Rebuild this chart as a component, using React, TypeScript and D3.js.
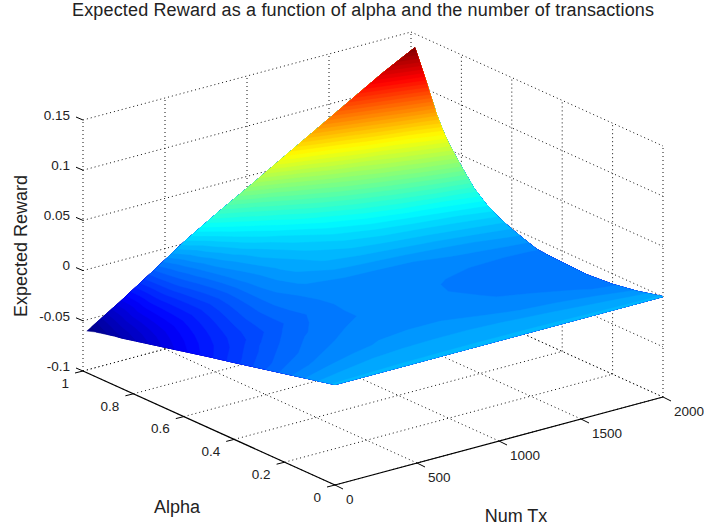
import * as d3 from 'd3';
import React from 'react';

const alphaTicks = [0, 0.2, 0.4, 0.6, 0.8, 1];
const numTicks = [0, 500, 1000, 1500, 2000];
const rewardTicks = [-0.1, -0.05, 0, 0.05, 0.1, 0.15];

// grid the surface was read on
const numGrid = [0, 200, 400, 600, 800, 1000, 1200, 1400, 1600, 1800, 2000];
const alphaGrid = [0, 0.1, 0.2, 0.3, 0.4, 0.45, 0.5, 0.55, 0.6, 0.65, 0.7, 0.75, 0.8, 0.85, 0.875, 0.9, 0.925, 0.95, 0.985];

// one row per alpha, one column per num tx
const reward000 = [0, 0, 0, 0, 0, 0, 0, 0, 0, 0, 0];
const reward100 = [-0.0058, -0.0043, -0.0034, -0.0031, -0.003, -0.003, -0.0032, -0.0036, -0.0042, -0.005, -0.0062];
const reward200 = [-0.0117, -0.0092, -0.0075, -0.0065, -0.0062, -0.0062, -0.0068, -0.008, -0.0085, -0.0095, -0.0105];
const reward300 = [-0.0175, -0.0135, -0.0105, -0.0085, -0.0082, -0.0082, -0.0088, -0.0097, -0.0105, -0.0112, -0.0125];
const reward400 = [-0.0234, -0.0175, -0.0135, -0.0112, -0.0094, -0.0091, -0.0094, -0.0103, -0.0112, -0.0115, -0.0115];
const reward450 = [-0.0262, -0.02, -0.0152, -0.0118, -0.0092, -0.0092, -0.0094, -0.0101, -0.0105, -0.0108, -0.0108];
const reward500 = [-0.029, -0.0228, -0.0172, -0.0128, -0.0092, -0.0092, -0.0094, -0.0096, -0.0099, -0.0102, -0.0098];
const reward550 = [-0.032, -0.0247, -0.0175, -0.012, -0.009, -0.0085, -0.0083, -0.0082, -0.0078, -0.007, -0.0055];
const reward600 = [-0.035, -0.0265, -0.018, -0.0112, -0.0085, -0.0078, -0.0075, -0.0068, -0.0055, -0.0035, -0.001];
const reward650 = [-0.038, -0.0285, -0.0192, -0.0108, -0.0062, -0.0042, -0.0032, -0.002, -0.0003, 0.002, 0.0045];
const reward700 = [-0.041, -0.0305, -0.0205, -0.0105, -0.0045, -0.001, 0.001, 0.003, 0.005, 0.0075, 0.012];
const reward750 = [-0.044, -0.0325, -0.0215, -0.0102, -0.0035, 0.001, 0.005, 0.0085, 0.012, 0.0165, 0.0225];
const reward800 = [-0.047, -0.0335, -0.021, -0.0092, -0.0015, 0.004, 0.01, 0.016, 0.023, 0.0305, 0.0385];
const reward850 = [-0.05, -0.0345, -0.02, -0.0075, 0.001, 0.0085, 0.0175, 0.027, 0.036, 0.0455, 0.0555];
const reward875 = [-0.051, -0.035, -0.019, -0.0065, 0.0035, 0.0125, 0.023, 0.0335, 0.0435, 0.054, 0.0665];
const reward900 = [-0.0525, -0.0355, -0.0185, -0.0055, 0.006, 0.0165, 0.0285, 0.04, 0.051, 0.0635, 0.08];
const reward925 = [-0.054, -0.037, -0.018, -0.0035, 0.0095, 0.0225, 0.0355, 0.049, 0.063, 0.079, 0.097];
const reward950 = [-0.0555, -0.038, -0.0175, -0.002, 0.0145, 0.0285, 0.0435, 0.059, 0.0765, 0.095, 0.114];
const reward985 = [-0.0585, -0.0385, -0.017, 0.005, 0.0245, 0.043, 0.062, 0.081, 0.1, 0.119, 0.136];

const rewardRows = [reward000, reward100, reward200, reward300, reward400, reward450, reward500, reward550, reward600, reward650, reward700, reward750, reward800, reward850, reward875, reward900, reward925, reward950, reward985];

const width = 704;
const height = 529;

const numX = d3.scaleLinear().domain([0, 2000]).range([0, 328]);
const numY = d3.scaleLinear().domain([0, 2000]).range([0, -88]);
const alphaX = d3.scaleLinear().domain([0, 1]).range([0, -252]);
const alphaY = d3.scaleLinear().domain([0, 1]).range([0, -114]);
const rewardY = d3.scaleLinear().domain([-0.1, 0.15]).range([0, -251]);

const project = (alpha: number, num: number, reward: number): [number, number] => [
  335 + numX(num) + alphaX(alpha),
  485 + numY(num) + alphaY(alpha) + rewardY(reward),
];

const linePath = (a: [number, number, number], b: [number, number, number]) =>
  d3.line()([project(a[0], a[1], a[2]), project(b[0], b[1], b[2])]) as string;

// jet, stepped to 64 colours like matlab
const jetScale = d3.scaleLinear<string>()
  .domain([0, 0.125, 0.375, 0.625, 0.875, 1])
  .range(['#000080', '#0000ff', '#00ffff', '#ffff00', '#ff0000', '#800000']);

const flat = rewardRows.flat();
const zMin = d3.min(flat) as number;
const zMax = d3.max(flat) as number;
const thresholds = d3.range(64).map(i => zMin + (i * (zMax - zMin)) / 64);

const colIndex = d3.scaleLinear().domain(numGrid.map((_, i) => i)).range(numGrid).clamp(true);
const rowIndex = d3.scaleLinear().domain(alphaGrid.map((_, i) => i)).range(alphaGrid).clamp(true);

const bands = d3.contours()
  .size([numGrid.length, alphaGrid.length])
  .thresholds(thresholds)(flat);

// contour coordinates -> screen, the half cell at the edge gets clamped
const bandPath = d3.geoPath(d3.geoTransform({
  point(x: number, y: number) {
    const num = colIndex(x - 0.5);
    const alpha = rowIndex(y - 0.5);
    // height is bilinear on the grid so the band sits on the surface
    const c = Math.max(0, Math.min(numGrid.length - 1, x - 0.5));
    const r = Math.max(0, Math.min(alphaGrid.length - 1, y - 0.5));
    const c0 = Math.min(Math.floor(c), numGrid.length - 2);
    const r0 = Math.min(Math.floor(r), alphaGrid.length - 2);
    const fc = c - c0;
    const fr = r - r0;
    const z =
      rewardRows[r0][c0] * (1 - fc) * (1 - fr) +
      rewardRows[r0][c0 + 1] * fc * (1 - fr) +
      rewardRows[r0 + 1][c0] * (1 - fc) * fr +
      rewardRows[r0 + 1][c0 + 1] * fc * fr;
    const p = project(alpha, num, z);
    this.stream.point(p[0], p[1]);
  },
}));

const dotted = { stroke: '#111', strokeWidth: 1, strokeDasharray: '1 3', fill: 'none' };
const labelFont = '"Liberation Sans", Arial, sans-serif';

const App = () => {
  const zLow = rewardTicks[0];
  const zHigh = rewardTicks[rewardTicks.length - 1];
  const numEnd = numTicks[numTicks.length - 1];

  return (
    <svg width={width} height={height} style={{ position: 'absolute', left: 0, top: 0, background: '#fff' }} fontFamily={labelFont}>
      {/* floor */}
      {numTicks.map(n => (
        <path key={'fn' + n} d={linePath([0, n, zLow], [1, n, zLow])} {...dotted} />
      ))}
      {alphaTicks.map(a => (
        <path key={'fa' + a} d={linePath([a, 0, zLow], [a, numEnd, zLow])} {...dotted} />
      ))}
      {/* back walls */}
      {rewardTicks.map(z => (
        <g key={'wz' + z}>
          <path d={linePath([1, 0, z], [1, numEnd, z])} {...dotted} />
          <path d={linePath([1, numEnd, z], [0, numEnd, z])} {...dotted} />
        </g>
      ))}
      {numTicks.map(n => (
        <path key={'wn' + n} d={linePath([1, n, zLow], [1, n, zHigh])} {...dotted} />
      ))}
      {alphaTicks.slice(0, -1).map(a => (
        <path key={'wa' + a} d={linePath([a, numEnd, zLow], [a, numEnd, zHigh])} {...dotted} />
      ))}

      {/* surface */}
      {bands.map((b, i) => {
        const c = jetScale((i + 0.5) / 64);
        return <path key={i} d={bandPath(b as any) || ''} fill={c} stroke={c} strokeWidth={0.4} />;
      })}

      {/* axes */}
      <path d={linePath([1, 0, zLow], [0, 0, zLow])} stroke="#000" strokeWidth={1.2} fill="none" />
      <path d={linePath([0, 0, zLow], [0, numEnd, zLow])} stroke="#000" strokeWidth={1.2} fill="none" />

      {alphaTicks.map(a => {
        const [x, y] = project(a, 0, zLow);
        return (
          <g key={'ta' + a}>
            <path d={`M${x},${y}L${x - 8},${y + 2}`} stroke="#000" fill="none" />
            <text x={x - 14} y={y + 12} dy="0.35em" textAnchor="end" fontSize={13.5} fill="#222">{a}</text>
          </g>
        );
      })}
      {numTicks.map(n => {
        const [x, y] = project(0, n, zLow);
        return (
          <g key={'tn' + n}>
            <path d={`M${x},${y}L${x + 8},${y + 4}`} stroke="#000" fill="none" />
            <text x={x + 11} y={y + 14} dy="0.35em" fontSize={13.5} fill="#222">{n}</text>
          </g>
        );
      })}
      {rewardTicks.map(z => {
        const [x, y] = project(1, 0, z);
        return (
          <g key={'tz' + z}>
            <path d={`M${x},${y}L${x - 7},${y - 3}`} stroke="#000" fill="none" />
            <text x={x - 13} y={y - 5} dy="0.35em" textAnchor="end" fontSize={13.5} fill="#222">{z}</text>
          </g>
        );
      })}

      <text x={363} y={16} textAnchor="middle" fontSize={18} textLength={582} fill="#222">Expected Reward as a function of alpha and the number of transactions</text>
      <text x={177} y={513} textAnchor="middle" fontSize={18} fill="#222">Alpha</text>
      <text x={516} y={522} textAnchor="middle" fontSize={18} fill="#222">Num Tx</text>
      <text transform="translate(27,246) rotate(-90)" textAnchor="middle" fontSize={18} fill="#222">Expected Reward</text>
    </svg>
  );
};

export default App;
